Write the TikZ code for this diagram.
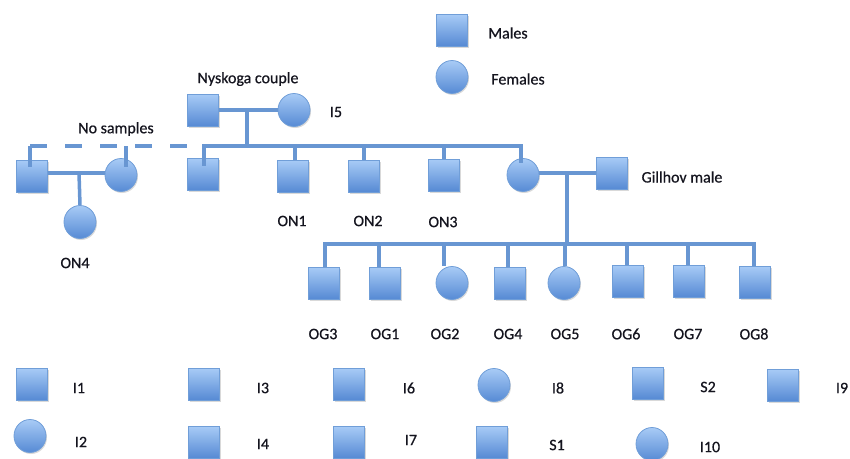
\documentclass[tikz,border=0pt]{standalone}
\usepackage{fontspec}
\setmainfont{Carlito}[UprightFeatures={FakeBold=0.6}]
\usetikzlibrary{shapes.geometric,shadows,calc}
\definecolor{lnc}{RGB}{104,150,210}
\definecolor{ftop}{RGB}{168,203,246}
\definecolor{fbot}{RGB}{86,138,212}
\definecolor{bdr}{RGB}{112,158,216}
\definecolor{txt}{RGB}{20,20,30}
\tikzset{
  shp/.style={inner sep=0pt, top color=ftop, bottom color=fbot, draw=bdr, line width=0.8pt,
    drop shadow={shadow xshift=1pt, shadow yshift=-1.5pt, opacity=0.3}},
  male/.style={shp, rectangle, minimum width=31pt, minimum height=32pt},
  female/.style={shp, ellipse, minimum width=32pt, minimum height=33pt},
  lbl/.style={font=\fontsize{16}{18}\selectfont, text=txt, inner sep=0pt},
  link/.style={draw=lnc, line width=3.5pt},
}
\begin{document}
\begin{tikzpicture}[x=1pt,y=-1pt]
\useasboundingbox (0,0) rectangle (850,458);

% top legend
\node[male]   (legM) at (452,30) {};
\node[female] (legF) at (452,77) {};
\node[lbl] (tM) at (508,33) {Males};
\node[lbl] (tF) at (518,79) {Females};

% Nyskoga couple
\node[male]   (nyM) at (203,110) {};
\node[female] (nyF) at (294,110) {};
\node[lbl] (tNy) at (248,79) {Nyskoga couple};
\node[lbl] (tI5) at (336,112) {I5};
\node[lbl] (tNo) at (116,129) {No samples};

% left family
\node[male]   (lM) at (32,176) {};
\node[female] (lF) at (121,175) {};
\node[female] (on4) at (80,222) {};
\node[lbl] (tON4) at (75,263) {ON4};

% siblings
\node[male]   (s0)  at (203,174) {};
\node[male]   (on1) at (293,176) {};
\node[male]   (on2) at (364,176) {};
\node[male]   (on3) at (444,175) {};
\node[female] (gF)  at (523,175) {};
\node[male]   (gM)  at (612,173) {};
\node[lbl] (tON1) at (292,221) {ON1};
\node[lbl] (tON2) at (368,221) {ON2};
\node[lbl] (tON3) at (443,222) {ON3};
\node[lbl] (tG) at (682,177) {Gillhov male};

% OG children
\node[male]   (og3) at (324,283) {};
\node[male]   (og1) at (385,283) {};
\node[female] (og2) at (452,283) {};
\node[male]   (og4) at (510,283) {};
\node[female] (og5) at (564,283) {};
\node[male]   (og6) at (628,281) {};
\node[male]   (og7) at (689,281) {};
\node[male]   (og8) at (755,282) {};
\foreach \n/\x in {OG3/323,OG1/385,OG2/445,OG4/508,OG5/565,OG6/626,OG7/688,OG8/754}
  \node[lbl] (t\n) at (\x,334) {\n};

% bottom legend
\node[male]   (i1)  at (32,384) {};
\node[male]   (i3)  at (204,384) {};
\node[male]   (i6)  at (349,384) {};
\node[female] (i8)  at (494,385) {};
\node[male]   (s2)  at (648,383) {};
\node[male]   (i9)  at (783,385) {};
\node[female] (i2)  at (30,436) {};
\node[male]   (i4)  at (204,442) {};
\node[male]   (i7)  at (349,442) {};
\node[male]   (s1)  at (492,442) {};
\node[female] (i10) at (652,444) {};
\node[lbl] (tI1) at (79,388) {I1};
\node[lbl] (tI3) at (263,388) {I3};
\node[lbl] (tI6) at (409,388) {I6};
\node[lbl] (tI8) at (558,388) {I8};
\node[lbl] (tS2) at (708,387) {S2};
\node[lbl] (tI9) at (842,388) {I9};
\node[lbl] (tI2) at (81,442) {I2};
\node[lbl] (tI4) at (263,444) {I4};
\node[lbl] (tI7) at (411,440) {I7};
\node[lbl] (tS1) at (557,445) {S1};
\node[lbl] (tI10) at (710,447) {I10};

% junction coordinates
\coordinate (nyJ) at (247,110);
\coordinate (sibJ) at (247,146);
\coordinate (sibL) at (204,146);
\coordinate (sibR) at (521,146);
\coordinate (dashL) at (30,146);
\coordinate (dashR) at (188,146);
\coordinate (dashF) at (126,146);
\coordinate (lJ) at (79,173);
\coordinate (c1) at (295,146);
\coordinate (c2) at (364,146);
\coordinate (c3) at (444,146);
\coordinate (gJ) at (567,173);
\coordinate (ogJ) at (567,244);
\coordinate (ogL) at (325,244);
\coordinate (ogR) at (754,244);
\foreach \x/\n in {379/og1,444/og2,508/og4,565/og5,627/og6,688/og7}
  \coordinate (j\n) at (\x,244);

% connectors
\draw[link] (nyM.east) -- (nyF.west);
\draw[link] (nyJ) -- (sibJ);
\draw[link] ($(sibL |- s0.north)+(0,8)$) -- (sibL) -- (sibR) -- ($(sibR |- gF.north)+(0,5)$);
\foreach \c/\n in {c1/on1,c2/on2,c3/on3}
  \draw[link] (\c) -- (\c |- \n.north);
\draw[link, dash pattern=on 17pt off 18pt] (dashL) -- (dashR);
\draw[link] (dashL) -- ($(dashL |- lM.north)+(0,7)$);
\draw[link] (dashF) -- ($(dashF |- lF.north)+(0,9)$);
\draw[link] (lM.east |- lJ) -- (lF.west |- lJ);
\draw[link] (lJ) -- (on4.north);
\draw[link] (gF.east |- gJ) -- (gM.west |- gJ);
\draw[link] (gJ) -- (ogJ);
\draw[link] (ogL |- og3.north) -- (ogL) -- (ogR) -- (ogR |- og8.north);
\foreach \n in {og1,og2,og4,og5,og6,og7}
  \draw[link] (j\n) -- (j\n |- \n.north);
\end{tikzpicture}
\end{document}
